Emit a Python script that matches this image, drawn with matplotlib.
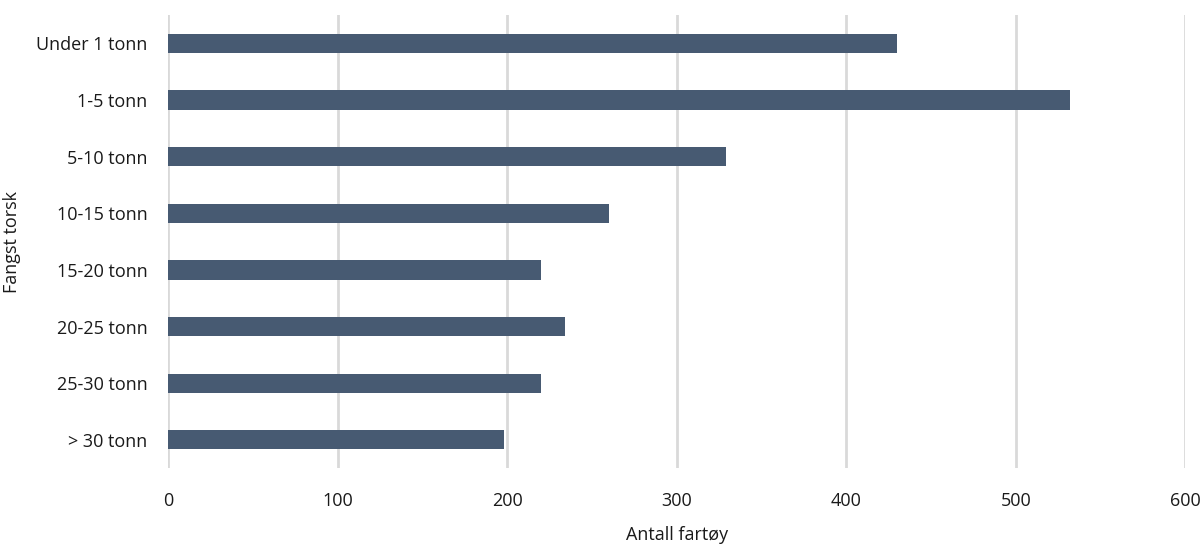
import matplotlib.pyplot as plt

# Data
kategorier = ["Under 1 tonn", "1-5 tonn", "5-10 tonn", "10-15 tonn",
              "15-20 tonn", "20-25 tonn", "25-30 tonn", "> 30 tonn"]
antall = [430, 532, 329, 260, 220, 234, 220, 198]
x_ticks = [0, 100, 200, 300, 400, 500, 600]

plt.rcParams['font.family'] = ['Open Sans', 'DejaVu Sans']

fig = plt.figure(figsize=(12, 5.58), dpi=100)
ax = fig.add_axes([0.1403, 0.161, 0.8474, 0.812])

ax.barh(range(len(kategorier)), antall, height=0.34, color="#475a72", zorder=3)

ax.set_ylim(len(kategorier) - 0.5, -0.5)
ax.set_xlim(0, 600)
ax.set_xticks(x_ticks)
ax.set_yticks(range(len(kategorier)))
ax.set_yticklabels(kategorier)

ax.grid(axis="x", color="#d9d9d9", linewidth=2, zorder=0)
ax.grid(axis="y", visible=False)
for s in ax.spines.values():
    s.set_visible(False)
ax.tick_params(axis="both", length=0, labelsize=13, colors="#1a1a1a")
ax.tick_params(axis="x", pad=17)
ax.tick_params(axis="y", pad=15)

ax.set_xlabel("Antall fartøy", fontsize=13, labelpad=12, color="#1a1a1a")
# y-akse tittel plassert manuelt så den ikke kuttes
fig.text(12 / 1200, 0.567, "Fangst torsk", rotation=90, ha="center", va="center",
         fontsize=13, color="#1a1a1a")

fig.savefig("out.png", dpi=100)
